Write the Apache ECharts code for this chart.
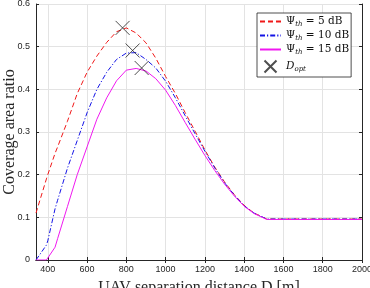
<!DOCTYPE html>
<html lang="en">
<head>
  <meta charset="UTF-8">
  <title>Coverage area ratio</title>
  <style>
    html,body{margin:0;padding:0;background:#fff;}
    #main{width:370px;height:288px;}
  </style>
</head>
<body>
  <div id="main"></div>
  <script src="https://cdn.jsdelivr.net/npm/echarts@6/dist/echarts.min.js"></script>
  <script>
    const dist = [340, 393, 400, 437, 450, 500, 550, 600, 650, 700, 750, 800, 850, 900, 950, 1000,
      1050, 1100, 1150, 1200, 1250, 1300, 1350, 1400, 1450, 1515, 1600, 1700, 1800, 1900, 2000];
    const cov5 = [0.11, 0.19, 0.20, 0.25, 0.265, 0.325, 0.39, 0.44, 0.478, 0.51, 0.535, 0.544, 0.532, 0.509, 0.473, 0.43,
      0.39, 0.345, 0.302, 0.258, 0.218, 0.183, 0.153, 0.128, 0.11, 0.096, 0.096, 0.096, 0.096, 0.096, 0.096];
    const cov10 = [0, 0.035, 0.045, 0.12, 0.14, 0.215, 0.28, 0.345, 0.40, 0.44, 0.47, 0.485, 0.486, 0.47, 0.45, 0.419,
      0.38, 0.338, 0.296, 0.255, 0.216, 0.181, 0.152, 0.127, 0.11, 0.096, 0.096, 0.096, 0.096, 0.096, 0.096];
    const cov15 = [0, 0, 0, 0.03, 0.05, 0.125, 0.20, 0.265, 0.33, 0.38, 0.42, 0.445, 0.449, 0.443, 0.425, 0.398,
      0.362, 0.322, 0.283, 0.245, 0.21, 0.178, 0.15, 0.126, 0.109, 0.095, 0.095, 0.095, 0.095, 0.095, 0.095];
    // optimal separation points
    const optD = [781, 832, 878];
    const optCov = [0.544, 0.491, 0.45];
    const xTicks = [400, 600, 800, 1000, 1200, 1400, 1600, 1800, 2000];

    const pairs = (xs, ys) => xs.map((x, i) => [x, ys[i]]);
    const axisCol = '#262626';
    const serif = 'Liberation Serif';
    const legSerif = 'DejaVu Serif';

    const chart = echarts.init(document.getElementById('main'));

    const xBase = {
      type: 'value', min: 340, max: 2000,
      axisLine: {show: true, lineStyle: {color: axisCol, width: 1}},
      axisTick: {show: true, inside: true, length: 3, customValues: xTicks, lineStyle: {color: axisCol}},
      splitLine: {show: false}
    };
    const yBase = {
      type: 'value', min: 0, max: 0.6, interval: 0.1,
      axisLine: {show: true, lineStyle: {color: axisCol, width: 1}},
      axisTick: {show: true, inside: true, length: 3, lineStyle: {color: axisCol}},
      splitLine: {show: false}
    };

    chart.setOption({
      animation: false,
      grid: {left: 36, right: 8, top: 4, bottom: 28, containLabel: false, outerBoundsMode: 'none'},
      legend: {
        left: 257, top: 13, orient: 'vertical',
        padding: [3, 2, 2, 2], itemGap: 2.5, itemWidth: 21, itemHeight: 12,
        backgroundColor: '#fff', borderColor: '#222', borderWidth: 0.8,
        textStyle: {fontFamily: legSerif, fontSize: 10.5, color: '#111',
          rich: {s: {fontFamily: legSerif, fontSize: 7, fontStyle: 'italic', padding: [5, 0, 0, 0]},
                 i: {fontFamily: legSerif, fontSize: 10.5, fontStyle: 'italic'}}},
        formatter: n => n === 'Dopt' ? '{i|D}{s|opt}' : n.replace('Ψth', 'Ψ{s|th}'),
        data: [
          {name: 'Ψth = 5 dB', itemStyle: {opacity: 0}},
          {name: 'Ψth = 10 dB', itemStyle: {opacity: 0}},
          {name: 'Ψth = 15 dB', itemStyle: {opacity: 0}},
          {name: 'Dopt'}
        ]
      },
      xAxis: [
        Object.assign({}, xBase, {
          position: 'bottom',
          name: 'UAV separation distance D [m]', nameLocation: 'middle', nameGap: 20, nameMoveOverlap: false,
          nameTextStyle: {fontFamily: serif, fontSize: 16, color: axisCol},
          axisLabel: {show: true, customValues: xTicks, formatter: v => String(v),
            fontFamily: 'Liberation Sans', fontSize: 9, color: axisCol, margin: 5},
          splitLine: {show: true, lineStyle: {color: '#e3e3e3', width: 1}}
        }),
        Object.assign({}, xBase, {position: 'top', axisLabel: {show: false}})
      ],
      yAxis: [
        Object.assign({}, yBase, {
          position: 'left',
          name: 'Coverage area ratio', nameLocation: 'middle', nameGap: 18, nameMoveOverlap: false,
          nameTextStyle: {fontFamily: serif, fontSize: 16, color: axisCol},
          axisLabel: {show: true, fontFamily: 'Liberation Sans', fontSize: 9, color: axisCol, margin: 6},
          splitLine: {show: true, lineStyle: {color: '#e3e3e3', width: 1}}
        }),
        Object.assign({}, yBase, {position: 'right', axisLabel: {show: false}})
      ],
      series: [
        {name: 'Ψth = 5 dB', type: 'line', data: pairs(dist, cov5), showSymbol: false, symbol: 'none',
          lineStyle: {color: '#f01818', width: 1, type: [5, 3]}, itemStyle: {color: '#f01818'}},
        {name: 'Ψth = 10 dB', type: 'line', data: pairs(dist, cov10), showSymbol: false, symbol: 'none',
          lineStyle: {color: '#1414e6', width: 1, type: [5, 2, 1.2, 2]}, itemStyle: {color: '#1414e6'}},
        {name: 'Ψth = 15 dB', type: 'line', data: pairs(dist, cov15), showSymbol: false, symbol: 'none',
          lineStyle: {color: '#f018f0', width: 1}, itemStyle: {color: '#f018f0'}},
        {name: 'Dopt', type: 'scatter', data: pairs(optD, optCov), z: 5,
          symbol: 'path://M0,0L10,10M10,0L0,10', symbolSize: 14,
          itemStyle: {color: 'none', borderColor: '#222', borderWidth: 1}}
      ]
    });
  </script>
</body>
</html>
